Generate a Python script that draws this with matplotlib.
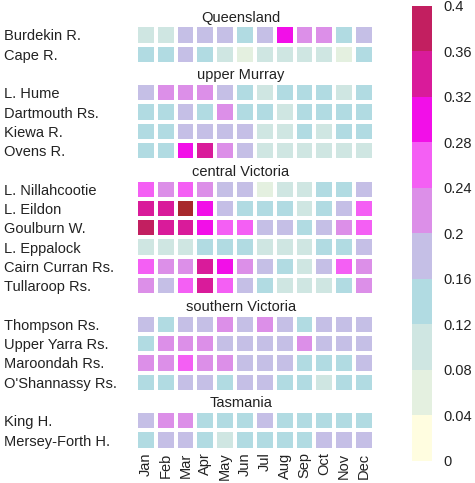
import numpy as np
import matplotlib.pyplot as plt
from matplotlib.colors import ListedColormap, BoundaryNorm

plt.rcParams['font.family'] = ['Liberation Sans', 'DejaVu Sans']
plt.rcParams['font.size'] = 10.5

months = ['Jan', 'Feb', 'Mar', 'Apr', 'May', 'Jun',
          'Jul', 'Aug', 'Sep', 'Oct', 'Nov', 'Dec']

# regions and the sites inside them (top to bottom)
regions = ['Queensland', 'upper Murray', 'central Victoria',
           'southern Victoria', 'Tasmania']
sites = [
    ['Burdekin R.', 'Cape R.'],
    ['L. Hume', 'Dartmouth Rs.', 'Kiewa R.', 'Ovens R.'],
    ['L. Nillahcootie', 'L. Eildon', 'Goulburn W.', 'L. Eppalock',
     'Cairn Curran Rs.', 'Tullaroop Rs.'],
    ['Thompson Rs.', 'Upper Yarra Rs.', 'Maroondah Rs.', "O'Shannassy Rs."],
    ['King H.', 'Mersey-Forth H.'],
]

# monthly values
queensland = [
    [0.10, 0.10, 0.18, 0.18, 0.18, 0.14, 0.18, 0.30, 0.22, 0.22, 0.14, 0.18],
    [0.14, 0.14, 0.18, 0.14, 0.10, 0.06, 0.10, 0.10, 0.10, 0.10, 0.06, 0.14],
]
upper_murray = [
    [0.18, 0.22, 0.22, 0.22, 0.18, 0.14, 0.10, 0.14, 0.14, 0.14, 0.10, 0.14],
    [0.14, 0.14, 0.18, 0.14, 0.22, 0.14, 0.14, 0.10, 0.14, 0.14, 0.14, 0.14],
    [0.14, 0.14, 0.18, 0.18, 0.18, 0.18, 0.10, 0.10, 0.14, 0.10, 0.14, 0.14],
    [0.14, 0.14, 0.30, 0.34, 0.22, 0.18, 0.10, 0.10, 0.10, 0.10, 0.10, 0.10],
]
central_victoria = [
    [0.26, 0.22, 0.26, 0.22, 0.18, 0.18, 0.06, 0.10, 0.10, 0.14, 0.14, 0.18],
    [0.34, 0.34, 0.42, 0.30, 0.18, 0.14, 0.14, 0.14, 0.10, 0.14, 0.18, 0.26],
    [0.38, 0.34, 0.34, 0.30, 0.26, 0.26, 0.18, 0.18, 0.14, 0.18, 0.22, 0.26],
    [0.10, 0.10, 0.10, 0.14, 0.14, 0.14, 0.10, 0.10, 0.10, 0.14, 0.14, 0.18],
    [0.26, 0.22, 0.22, 0.34, 0.30, 0.22, 0.18, 0.14, 0.10, 0.18, 0.26, 0.22],
    [0.22, 0.18, 0.26, 0.34, 0.26, 0.18, 0.14, 0.10, 0.10, 0.10, 0.14, 0.22],
]
southern_victoria = [
    [0.18, 0.14, 0.18, 0.18, 0.22, 0.18, 0.22, 0.18, 0.14, 0.18, 0.18, 0.18],
    [0.14, 0.22, 0.22, 0.22, 0.18, 0.18, 0.18, 0.18, 0.22, 0.18, 0.18, 0.18],
    [0.22, 0.22, 0.26, 0.22, 0.22, 0.18, 0.18, 0.18, 0.14, 0.14, 0.14, 0.18],
    [0.14, 0.14, 0.18, 0.18, 0.14, 0.18, 0.18, 0.14, 0.14, 0.10, 0.14, 0.14],
]
tasmania = [
    [0.18, 0.22, 0.22, 0.14, 0.14, 0.14, 0.18, 0.14, 0.14, 0.14, 0.14, 0.14],
    [0.14, 0.18, 0.18, 0.14, 0.10, 0.14, 0.14, 0.14, 0.14, 0.18, 0.18, 0.18],
]
region_values = [queensland, upper_murray, central_victoria,
                 southern_victoria, tasmania]

# discrete colour scale
bounds = np.arange(0, 0.4001, 0.04)
colors = ['#fffde0', '#e4f0e0', '#cfe6e2', '#b1dbe2', '#c5bfe6',
          '#dc8fe8', '#f45ff4', '#f20fe8', '#d91b9a', '#c21f60']
cmap = ListedColormap(colors)
cmap.set_over('#a8292c')
cmap.set_bad((1, 1, 1, 0))
norm = BoundaryNorm(bounds, cmap.N)

# stack everything into one grid, a blank row for each region heading
rows = []
row_labels = []
heading_rows = []
for name, labels, vals in zip(regions, sites, region_values):
    heading_rows.append((len(rows), name))
    rows.append([np.nan] * 12)
    for lab, v in zip(labels, vals):
        row_labels.append((len(rows), lab))
        rows.append(v)
grid = np.ma.masked_invalid(np.array(rows))

fig = plt.figure(figsize=(4.75, 4.83), dpi=100)
ax = fig.add_axes([0.286, 0.069, 0.501, 0.9185])
mesh = ax.pcolormesh(np.arange(13), np.arange(len(rows) + 1), grid,
                     cmap=cmap, norm=norm, edgecolors='white', linewidth=1.6)
ax.set_xlim(0, 12)
ax.set_ylim(len(rows), 0)

for r, name in heading_rows:
    ax.text(5.3, r + 0.6, name, ha='center', va='center', color='#222222')

ax.set_yticks([r + 0.5 for r, _ in row_labels])
ax.set_yticklabels([lab for _, lab in row_labels], ha='left', color='#222222')
ax.tick_params(axis='y', length=0, pad=95)
ax.set_xticks(np.arange(12) + 0.5)
ax.set_xticklabels(months, rotation=90, color='#222222')
ax.tick_params(axis='x', length=0, pad=2)
for s in ax.spines.values():
    s.set_visible(False)

cax = fig.add_axes([0.867, 0.046, 0.042, 0.942])
cb = fig.colorbar(mesh, cax=cax, ticks=bounds)
cb.set_ticklabels(['0', '0.04', '0.08', '0.12', '0.16', '0.2',
                   '0.24', '0.28', '0.32', '0.36', '0.4'])
cb.outline.set_visible(False)
cax.tick_params(length=0, pad=8, labelcolor='#222222')

fig.savefig('out.png', dpi=100)
